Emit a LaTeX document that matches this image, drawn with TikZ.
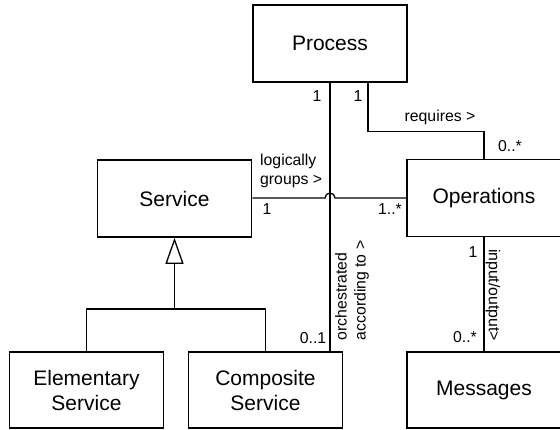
\documentclass[tikz,border=0pt]{standalone}
\usepackage{fontspec}
\setmainfont{Liberation Sans}
\usetikzlibrary{arrows.meta}
\begin{document}
\begin{tikzpicture}[x=1pt,y=-1pt,
  classbox/.style={draw, line width=1.6pt, minimum width=154pt, minimum height=77pt,
    align=center, inner sep=0pt, font=\fontsize{21}{25}\selectfont},
  assoc/.style={line width=1.3pt},
  lbl/.style={inner sep=0pt, font=\fontsize{15.8}{19}\selectfont}]
\useasboundingbox (0,0) rectangle (560,429);

% classes
\node[classbox] (Process)    at (330,43.5)  {Process};
\node[classbox] (Service)    at (174.5,198.5) {Service};
\node[classbox] (Operations) at (484,198)   {Operations};
\node[classbox, minimum height=76pt] (Elementary) at (86.5,390) {Elementary\\Service};
\node[classbox, minimum height=76pt] (Composite)  at (265.5,390) {Composite\\Service};
\node[classbox, minimum height=76pt] (Messages)   at (484,390) {Messages};

% Process -- Composite Service (orchestrated according to)
\draw[assoc] (Process.south) -- (Process.south |- Composite.north);

% Process -- Operations (requires)
\coordinate (reqstart) at ([xshift=38pt]Process.south);
\draw[assoc] (reqstart) -- ++(0,49) -| (Operations.north);

% Service -- Operations (logically groups), hopping over the vertical line
\coordinate (hop) at (Process.south |- Operations.west);
\draw[assoc] (Service.east |- Operations.west) -- ([xshift=-5pt]hop)
  arc[start angle=180, end angle=0, radius=5pt] -- (Operations.west);

% Operations -- Messages (input/output)
\draw[assoc] (Operations.south) -- (Messages.north);

% generalization
\coordinate (genbase) at (174.5,263);
\coordinate (genbar) at (174.5,309);
\draw[assoc, -{Triangle[open, length=26pt, width=18pt, line width=1.3pt]}] (genbar) -- (Service.south);
\draw[assoc] (Elementary.north) -- (Elementary.north |- genbar) -- (Composite.north |- genbar) -- (Composite.north);

% multiplicities and role labels
\node[lbl] (m1) at (317,96) {1};
\node[lbl] (m2) at (358,96) {1};
\node[lbl] (req) at (440,117) {requires >};
\node[lbl] (m3) at (510,146) {0..*};
\node[lbl, anchor=west, align=left] (lg) at (260,171) {logically\\groups >};
\node[lbl] (m4) at (267,209) {1};
\node[lbl, anchor=east] (m5) at (402,209) {1..*};
\node[lbl, rotate=90, align=left] (orch) at (352,290.5) {orchestrated\\according to >};
\node[lbl] (m6) at (313,338) {0..1};
\node[lbl] (m7) at (473,252) {1};
\node[lbl, rotate=-90] (io) at (493,295) {input/output>};
\node[lbl] (m8) at (465,337) {0..*};
\end{tikzpicture}
\end{document}
